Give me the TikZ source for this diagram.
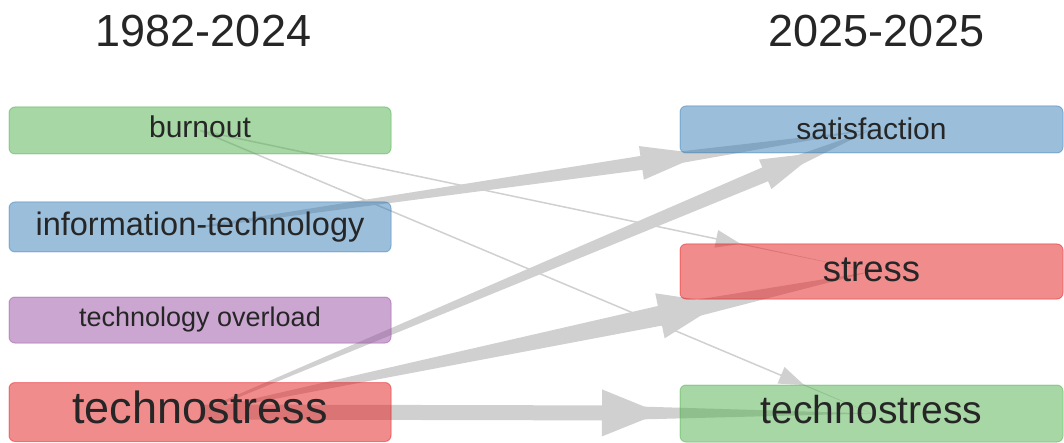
\documentclass[tikz,border=0pt]{standalone}
\usepackage{fontspec}
\setmainfont{Liberation Sans}
\usetikzlibrary{calc}

\definecolor{setred}{HTML}{E41A1C}
\definecolor{setblue}{HTML}{377EB8}
\definecolor{setgreen}{HTML}{4DAF4A}
\definecolor{setpurple}{HTML}{984EA3}
\definecolor{flowgray}{HTML}{D0D0D0}

\pgfdeclarelayer{background}
\pgfsetlayers{background,main}

% flow from #1 to #2: start width, end width, head length, head width, pull back
\newcommand\flow[7]{%
  \coordinate (fs) at (#1.center);
  \coordinate (ft) at (#2.center);
  \path (fs) -- (#2) coordinate[pos=1] (fe);
  \coordinate (fp) at ($(fe)!#7pt!(fs)$);
  \coordinate (fb) at ($(fp)!#5pt!(fs)$);
  \fill[flowgray] ($(fs)!#3*0.5pt!90:(ft)$) -- ($(fb)!#4*0.5pt!90:(ft)$)
    -- ($(fb)!#6*0.5pt!90:(ft)$) -- (fp) -- ($(fb)!#6*0.5pt!-90:(ft)$)
    -- ($(fb)!#4*0.5pt!-90:(ft)$) -- ($(fs)!#3*0.5pt!-90:(ft)$) -- cycle;
  \fill[flowgray] ($(fb)!#4*0.5pt!90:(ft)$) -- (ft) -- ($(fb)!#4*0.5pt!-90:(ft)$) -- cycle;
}

\begin{document}
\begin{tikzpicture}[x = 1pt, y = -1pt,
    box/.style = {rectangle, rounded corners = 6pt, inner sep = 0pt, outer sep = 0pt,
      line width = 1pt, fill = #1, draw = #1, fill opacity = 0.5, draw opacity = 0.45,
      text opacity = 1, text = black!85},
    size/.style = {font = \fontsize{#1}{#1}\selectfont, text height = #1*0.5pt, text depth = 0pt},
    title/.style = {font = \fontsize{45}{54}\selectfont, text = black!85, anchor = base}]
\useasboundingbox (0,0) rectangle (1064,443);

\node[title](t1) at (203.5,47) {1982-2024};
\node[title](t2) at (876.5,47) {2025-2025};

\draw (200,130.5) node[box = setgreen, minimum width = 382pt, minimum height = 47pt,
        size = 30](l1){burnout}
    (200,227) node[box = setblue, minimum width = 382pt, minimum height = 50pt,
        size = 32.5](l2){information-technology}
    (200,320) node[box = setpurple, minimum width = 382pt, minimum height = 46pt,
        size = 27](l3){technology overload}
    (200,412) node[box = setred, minimum width = 382pt, minimum height = 59pt,
        size = 45](l4){technostress};

\draw (871.5,129.5) node[box = setblue, minimum width = 383pt, minimum height = 47pt,
        size = 30, text height = 20pt](r1){satisfaction}
    (871.5,271.5) node[box = setred, minimum width = 383pt, minimum height = 55pt,
        size = 36.5, text height = 20pt](r2){stress}
    (871.5,413.5) node[box = setgreen, minimum width = 383pt, minimum height = 57pt,
        size = 39](r3){technostress};

\begin{pgfonlayer}{background}
    \flow{l1}{r2}{1.5}{1.5}{25}{18}{0}
    \flow{l1}{r3}{1.5}{1.5}{25}{18}{0}
    \flow{l2}{r1}{2}{14}{62}{34}{7}
    \flow{l4}{r1}{2}{15}{55}{32}{0}
    \flow{l4}{r2}{2}{20}{62}{46}{20}
    \flow{l4}{r3}{15}{15}{58}{47}{20}
\end{pgfonlayer}
\end{tikzpicture}
\end{document}
